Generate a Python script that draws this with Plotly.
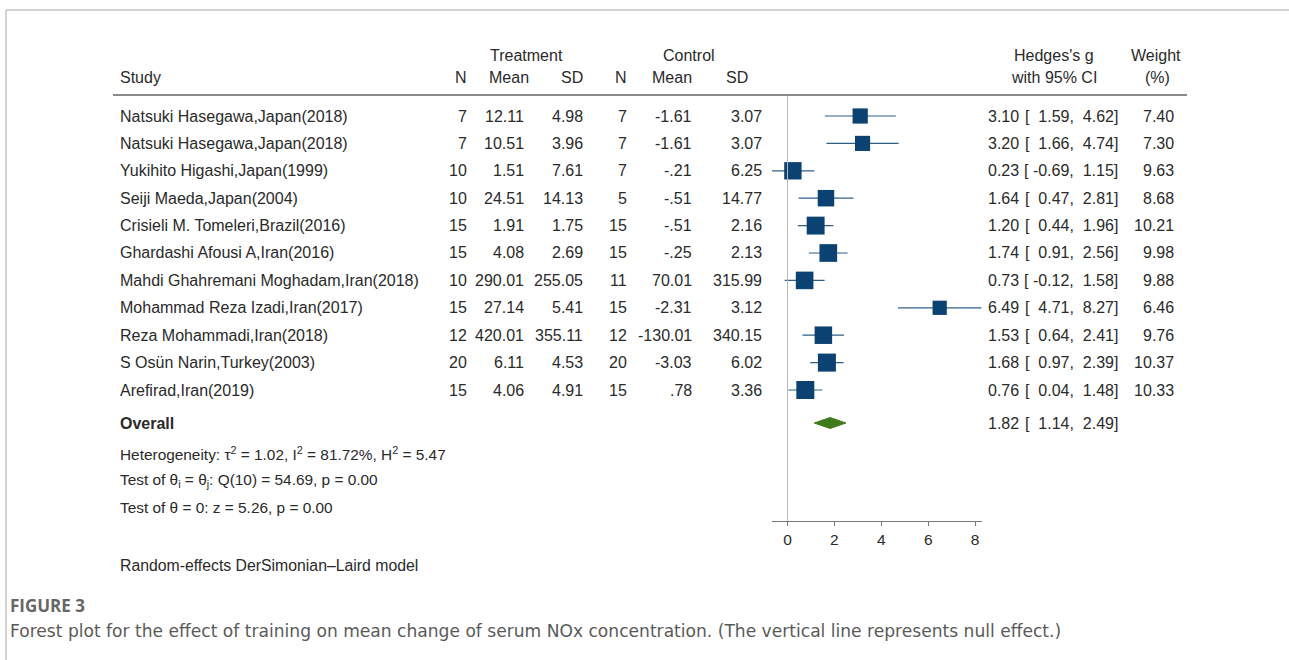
import plotly.graph_objects as go

# ---- study-level data -------------------------------------------------------
studies = [
    "Natsuki Hasegawa,Japan(2018)",
    "Natsuki Hasegawa,Japan(2018)",
    "Yukihito Higashi,Japan(1999)",
    "Seiji Maeda,Japan(2004)",
    "Crisieli M. Tomeleri,Brazil(2016)",
    "Ghardashi Afousi A,Iran(2016)",
    "Mahdi Ghahremani Moghadam,Iran(2018)",
    "Mohammad Reza Izadi,Iran(2017)",
    "Reza Mohammadi,Iran(2018)",
    "S Osün Narin,Turkey(2003)",
    "Arefirad,Iran(2019)",
]
n_treat = [7, 7, 10, 10, 15, 15, 10, 15, 12, 20, 15]
mean_treat = [12.11, 10.51, 1.51, 24.51, 1.91, 4.08, 290.01, 27.14, 420.01, 6.11, 4.06]
sd_treat = [4.98, 3.96, 7.61, 14.13, 1.75, 2.69, 255.05, 5.41, 355.11, 4.53, 4.91]
n_ctrl = [7, 7, 7, 5, 15, 15, 11, 15, 12, 20, 15]
mean_ctrl = [-1.61, -1.61, -0.21, -0.51, -0.51, -0.25, 70.01, -2.31, -130.01, -3.03, 0.78]
sd_ctrl = [3.07, 3.07, 6.25, 14.77, 2.16, 2.13, 315.99, 3.12, 340.15, 6.02, 3.36]
hedges_g = [3.10, 3.20, 0.23, 1.64, 1.20, 1.74, 0.73, 6.49, 1.53, 1.68, 0.76]
ci_low = [1.59, 1.66, -0.69, 0.47, 0.44, 0.91, -0.12, 4.71, 0.64, 0.97, 0.04]
ci_high = [4.62, 4.74, 1.15, 2.81, 1.96, 2.56, 1.58, 8.27, 2.41, 2.39, 1.48]
weight = [7.40, 7.30, 9.63, 8.68, 10.21, 9.98, 9.88, 6.46, 9.76, 10.37, 10.33]

overall_g = 1.82
overall_low = 1.14
overall_high = 2.49

axis_ticks = [0, 2, 4, 6, 8]

heterogeneity = "Heterogeneity: τ<sup>2</sup> = 1.02, I<sup>2</sup> = 81.72%, H<sup>2</sup> = 5.47"
test_homog = "Test of θ<sub>i</sub> = θ<sub>j</sub>: Q(10) = 54.69, p = 0.00"
test_zero = "Test of θ = 0: z = 5.26, p = 0.00"
model_note = "Random-effects DerSimonian–Laird model"
fig_label = "FIGURE 3"
caption = ("Forest plot for the effect of training on mean change of serum NOx "
           "concentration. (The vertical line represents null effect.)")

# ---- page geometry ----------------------------------------------------------
W, H = 1289, 660
ROW0, ROW_STEP = 116, 27.4          # pixel y of first study row and row pitch
OVERALL_ROW = (423 - ROW0) / ROW_STEP
PLOT_TOP, PLOT_BOTTOM = 96, 521     # vertical extent of the forest panel
X_LEFT, X_RIGHT = 772, 982          # horizontal extent of the forest panel
X_ZERO, PX_PER_UNIT = 787.5, 23.45

TXT = "Liberation Sans, Arial, sans-serif"
CAP = "Open Sans, Noto Sans, sans-serif"
CAP_BODY = "DejaVu Sans, sans-serif"
INK = "#2a2a2a"
FS = 16
PAD = 2  # annotation box padding, compensated so text edges sit on the guides


def px(x):
    return x / W


def py(y):
    return 1 - y / H


def row_px(i):
    return ROW0 + i * ROW_STEP


def stata_num(v):
    s = f"{v:g}"
    if abs(v) < 1:
        s = s.replace("0.", ".", 1)
    return s


fig = go.Figure()
ann = []


def text(x, y, s, anchor="left", size=FS, color=INK, family=TXT):
    if anchor == "left":
        x -= PAD
    elif anchor == "right":
        x += PAD
    ann.append(dict(x=px(x), y=py(y), xref="paper", yref="paper", text=s,
                    showarrow=False, xanchor=anchor, yanchor="middle",
                    font=dict(family=family, size=size, color=color)))


# ---- header -----------------------------------------------------------------
text(526, 56, "Treatment", "center")
text(689, 56, "Control", "center")
text(1054, 56, "Hedges's g", "center")
text(1156, 56, "Weight", "center")
text(120, 77, "Study")
text(467, 77, "N", "right")
text(529, 77, "Mean", "right")
text(583, 77, "SD", "right")
text(627, 77, "N", "right")
text(692, 77, "Mean", "right")
text(748, 77, "SD", "right")
text(1054, 77, "with 95% CI", "center")
text(1157, 77, "(%)", "center")

# ---- study rows -------------------------------------------------------------
col_right = [467, 524, 583, 627, 692, 762]
for i, name in enumerate(studies):
    y = row_px(i)
    text(120, y, name)
    vals = [str(n_treat[i]), stata_num(mean_treat[i]), stata_num(sd_treat[i]),
            str(n_ctrl[i]), stata_num(mean_ctrl[i]), stata_num(sd_ctrl[i])]
    for xr, v in zip(col_right, vals):
        text(xr, y, v, "right")
    text(1019, y, f"{hedges_g[i]:.2f}", "right")
    text(1118, y, f"[{ci_low[i]:6.2f}, {ci_high[i]:5.2f}]".replace(" ", "\u00a0"), "right")
    text(1174, y, f"{weight[i]:.2f}", "right")

oy = row_px(OVERALL_ROW)
text(120, oy, "<b>Overall</b>")
text(1019, oy, f"{overall_g:.2f}", "right")
text(1118, oy, f"[{overall_low:6.2f}, {overall_high:5.2f}]".replace(" ", "\u00a0"), "right")

text(120, 453, heterogeneity, size=15.4)
text(120, 480, test_homog, size=15.4)
text(120, 507, test_zero, size=15.4)
text(120, 565, model_note, size=15.8)

text(10, 605, "<b>" + fig_label + "</b>", size=17, color="#666666", family=CAP)
text(10, 631, caption, size=17.1, color="#5a5a5a", family=CAP_BODY)

# ---- forest panel -----------------------------------------------------------
ci_x, ci_y = [], []
for i in range(len(studies)):
    ci_x += [ci_low[i], ci_high[i], None]
    ci_y += [i, i, None]
fig.add_trace(go.Scatter(x=ci_x, y=ci_y, mode="lines",
                         line=dict(color="#2f5f86", width=1.2),
                         hoverinfo="skip", showlegend=False))

fig.add_trace(go.Scatter(
    x=hedges_g, y=list(range(len(studies))), mode="markers",
    marker=dict(symbol="square", size=[5.6 * w ** 0.5 for w in weight],
                color="#0c4271", opacity=1, line=dict(width=0)),
    hoverinfo="skip", showlegend=False))

half_h = 5.5 / ROW_STEP
fig.add_trace(go.Scatter(
    x=[overall_low, overall_g, overall_high, overall_g, overall_low],
    y=[OVERALL_ROW, OVERALL_ROW - half_h, OVERALL_ROW, OVERALL_ROW + half_h, OVERALL_ROW],
    mode="lines", fill="toself", fillcolor="#3f7a1c",
    line=dict(color="#3f7a1c", width=1), hoverinfo="skip", showlegend=False))

x_range = [(X_LEFT - X_ZERO) / PX_PER_UNIT, (X_RIGHT - X_ZERO) / PX_PER_UNIT]
y_range = [(PLOT_BOTTOM - ROW0) / ROW_STEP, (PLOT_TOP - ROW0) / ROW_STEP]

shapes = [
    # null-effect line
    dict(type="line", xref="x", yref="paper", x0=0, x1=0,
         y0=py(PLOT_BOTTOM), y1=py(PLOT_TOP), line=dict(color="#b8b8b8", width=1)),
    # rule under the column headers
    dict(type="line", xref="paper", yref="paper", x0=px(113), x1=px(1187),
         y0=py(95), y1=py(95), line=dict(color="#8a8a8a", width=2)),
    # page frame
    dict(type="line", xref="paper", yref="paper", x0=px(6), x1=1,
         y0=py(10), y1=py(10), line=dict(color="#c4c4c4", width=1.5)),
    dict(type="line", xref="paper", yref="paper", x0=px(6), x1=px(6),
         y0=py(10), y1=0, line=dict(color="#c4c4c4", width=1.5)),
]

fig.update_layout(
    width=W, height=H, margin=dict(l=0, r=0, t=0, b=0),
    paper_bgcolor="white", plot_bgcolor="rgba(0,0,0,0)",
    annotations=ann, shapes=shapes, showlegend=False,
    xaxis=dict(domain=[px(X_LEFT), px(X_RIGHT)], range=x_range,
               tickvals=axis_ticks, ticks="outside", ticklen=4, tickcolor="#777",
               showline=True, linecolor="#777", linewidth=1,
               showgrid=False, zeroline=False,
               tickfont=dict(family=TXT, size=15.5, color=INK)),
    yaxis=dict(domain=[py(PLOT_BOTTOM), py(PLOT_TOP)], range=y_range,
               visible=False, showgrid=False, zeroline=False),
)

fig.write_html("out.html")
